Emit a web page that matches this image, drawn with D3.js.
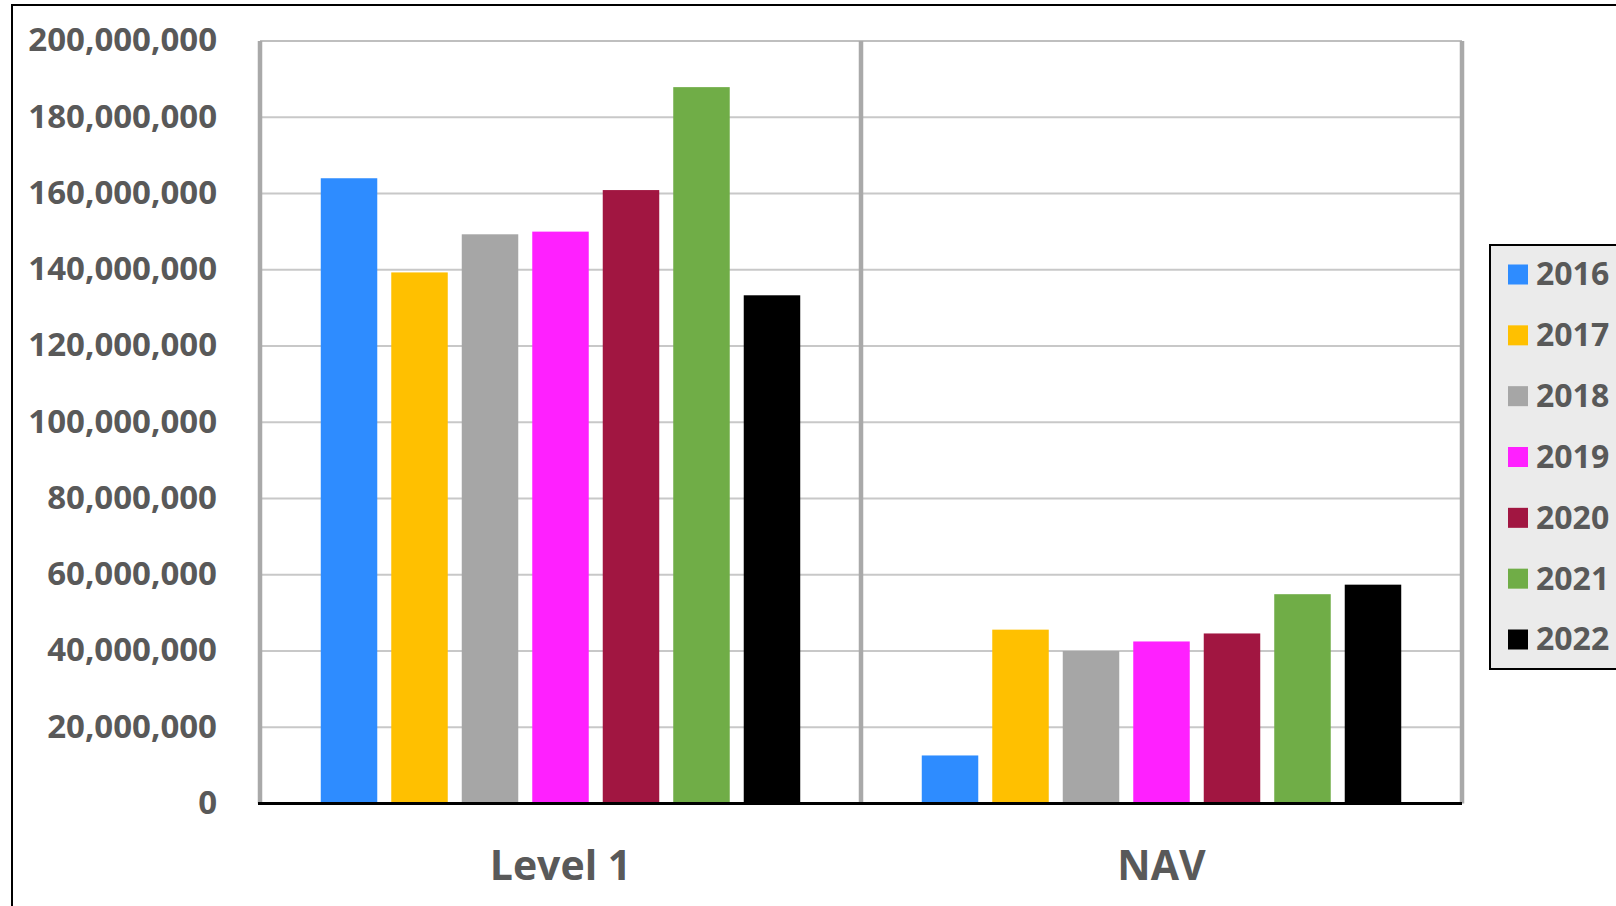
<!DOCTYPE html>
<html>
<head>
<meta charset="utf-8">
<script src="https://cdn.jsdelivr.net/npm/d3@7"></script>
<style>
  html, body { margin: 0; padding: 0; background: #ffffff; overflow: hidden; }
  svg { display: block; }
  text { font-family: "Open Sans", "Noto Sans", sans-serif; font-weight: 700; fill: #595959; }
</style>
</head>
<body>
<svg id="chart" width="1616" height="906"></svg>
<script>
// Categories and series
const categories = ["Level 1", "NAV"];
const years = ["2016", "2017", "2018", "2019", "2020", "2021", "2022"];
const level1Values = [164.0e6, 139.3e6, 149.3e6, 150.0e6, 160.9e6, 187.9e6, 133.3e6];
const navValues = [12.6e6, 45.6e6, 40.0e6, 42.5e6, 44.6e6, 54.9e6, 57.4e6];
const yearColors = ["#2e8cff", "#ffc000", "#a6a6a6", "#ff20ff", "#a11641", "#70ad47", "#000000"];
const yTicks = [0, 20e6, 40e6, 60e6, 80e6, 100e6, 120e6, 140e6, 160e6, 180e6, 200e6];

const seriesByCategory = {
  "Level 1": level1Values,
  "NAV": navValues
};

const svg = d3.select("#chart");

// Outer chart frame
svg.append("rect")
  .attr("x", 12).attr("y", 5)
  .attr("width", 1700).attr("height", 1000)
  .attr("fill", "#ffffff")
  .attr("stroke", "#000000").attr("stroke-width", 2);

const plotLeft = 260, plotRight = 1462, plotTop = 41, plotBottom = 803.5;

const x0 = d3.scaleBand().domain(categories).range([plotLeft, plotRight]).padding(0);
const x1 = d3.scaleBand().domain(years).range([0, x0.bandwidth()])
  .paddingInner(0.1986).paddingOuter(0.862);
const y = d3.scaleLinear().domain([0, 200e6]).range([plotBottom, plotTop]);
const color = d3.scaleOrdinal().domain(years).range(yearColors);

// Horizontal gridlines
svg.append("g")
  .selectAll("line")
  .data(yTicks.filter(d => d > 0))
  .join("line")
  .attr("x1", plotLeft).attr("x2", plotRight)
  .attr("y1", d => y(d)).attr("y2", d => y(d))
  .attr("stroke", d => d === 200e6 ? "#bfbfbf" : "#c8c8c8")
  .attr("stroke-width", 2);

// Vertical separators between categories
const separators = categories.map(c => x0(c)).concat([x0(categories[categories.length - 1]) + x0.bandwidth()]);
svg.append("g")
  .selectAll("line")
  .data(separators)
  .join("line")
  .attr("x1", d => d).attr("x2", d => d)
  .attr("y1", plotTop).attr("y2", plotBottom)
  .attr("stroke", "#a9a9a9")
  .attr("stroke-width", 4.5);

// Bars
const groups = svg.append("g")
  .selectAll("g")
  .data(categories)
  .join("g")
  .attr("transform", c => `translate(${x0(c)},0)`);

groups.selectAll("rect")
  .data(c => years.map((yr, i) => ({ year: yr, value: seriesByCategory[c][i] })))
  .join("rect")
  .attr("x", d => x1(d.year))
  .attr("width", x1.bandwidth())
  .attr("y", d => y(d.value))
  .attr("height", d => y(0) - y(d.value))
  .attr("fill", d => color(d.year));

// Baseline
svg.append("line")
  .attr("x1", plotLeft - 2).attr("x2", plotRight)
  .attr("y1", y(0)).attr("y2", y(0))
  .attr("stroke", "#000000").attr("stroke-width", 3);

// Value axis labels
const yAxis = svg.append("g")
  .attr("transform", `translate(${plotLeft},0)`)
  .call(d3.axisLeft(y).tickValues(yTicks).tickFormat(d3.format(",")).tickSize(0).tickPadding(43));
yAxis.select(".domain").remove();
yAxis.selectAll("text")
  .attr("dy", "0.3em")
  .style("font-size", "33px")
  .style("font-family", "'Open Sans', 'Noto Sans', sans-serif")
  .style("font-weight", "700")
  .attr("fill", "#595959");

// Category labels
svg.append("g")
  .selectAll("text")
  .data(categories)
  .join("text")
  .attr("x", c => x0(c) + x0.bandwidth() / 2)
  .attr("y", 880)
  .attr("text-anchor", "middle")
  .style("font-size", "41px")
  .text(c => c);

// Legend
const legend = svg.append("g");
legend.append("rect")
  .attr("x", 1490).attr("y", 245)
  .attr("width", 200).attr("height", 424)
  .attr("fill", "#ebebeb")
  .attr("stroke", "#000000").attr("stroke-width", 2);

const legendRow = d3.scalePoint().domain(years).range([274.5, 639.5]);
const items = legend.selectAll("g.item")
  .data(years)
  .join("g")
  .attr("class", "item")
  .attr("transform", yr => `translate(0,${legendRow(yr)})`);
items.append("rect")
  .attr("x", 1508).attr("y", -10)
  .attr("width", 20).attr("height", 20)
  .attr("fill", yr => color(yr));
items.append("text")
  .attr("x", 1536).attr("y", 0)
  .attr("dy", "0.34em")
  .style("font-size", "32px")
  .text(yr => yr);
</script>
</body>
</html>
